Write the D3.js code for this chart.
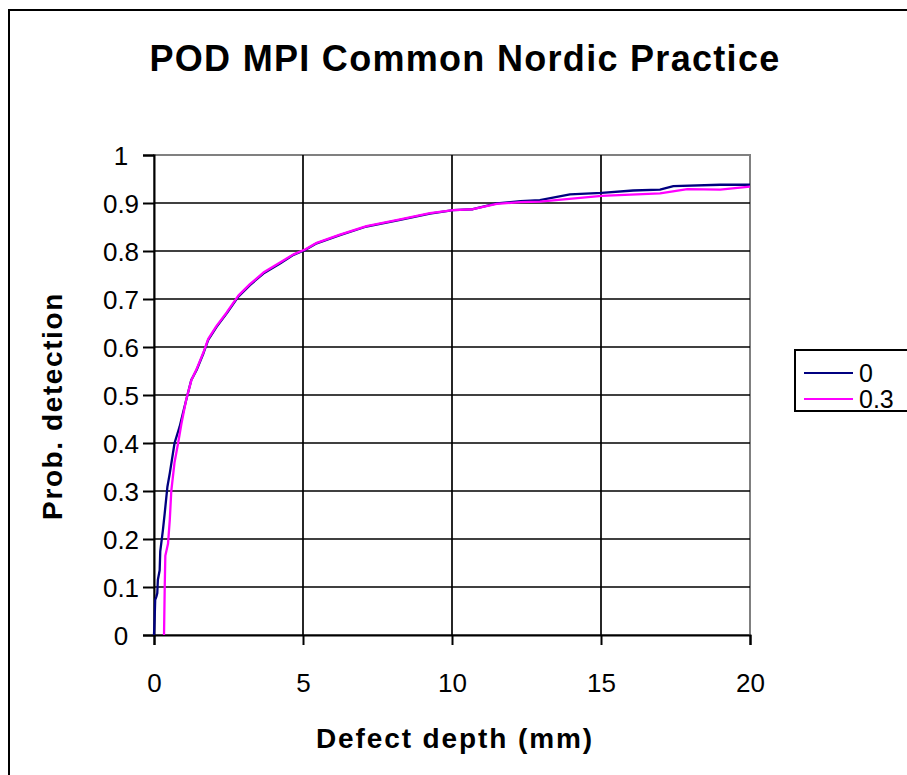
<!DOCTYPE html>
<html><head><meta charset="utf-8">
<script src="https://cdn.jsdelivr.net/npm/d3@7"></script>
<style>body{margin:0;background:#fff}svg{display:block}</style>
</head><body>
<script>
const titleText = "POD MPI Common Nordic Practice";
const xLabel = "Defect depth (mm)";
const yLabel = "Prob. detection";
const xTicks = [0, 5, 10, 15, 20];
const yTicks = [0, 0.1, 0.2, 0.3, 0.4, 0.5, 0.6, 0.7, 0.8, 0.9, 1];
const seriesNames = ["0", "0.3"];
const seriesColors = ["#000080", "#FF00FF"];

const s0x = [0, 0.02, 0.04, 0.08, 0.11, 0.13, 0.19, 0.21, 0.30, 0.36, 0.45, 0.53, 0.69, 0.86, 0.97, 1.14, 1.25, 1.43, 1.66, 1.82, 2.10, 2.44, 2.83, 3.22, 3.67, 4.23, 4.68, 5.07, 5.46, 6.24, 7.13, 8.26, 9.26, 10.04, 10.70, 11.50, 12.30, 12.95, 13.96, 15.02, 16.08, 16.98, 17.43, 19.00, 20.00];
const s0y = [0, 0.03, 0.073, 0.08, 0.087, 0.115, 0.135, 0.174, 0.219, 0.254, 0.309, 0.337, 0.400, 0.434, 0.462, 0.504, 0.531, 0.552, 0.587, 0.615, 0.642, 0.670, 0.705, 0.729, 0.753, 0.774, 0.792, 0.802, 0.816, 0.833, 0.851, 0.865, 0.878, 0.885, 0.887, 0.899, 0.904, 0.906, 0.918, 0.921, 0.926, 0.928, 0.935, 0.938, 0.938];

const s1x = [0.336, 0.36, 0.38, 0.47, 0.53, 0.58, 0.69, 0.81, 0.92, 1.08, 1.25, 1.43, 1.66, 1.82, 2.10, 2.44, 2.83, 3.22, 3.67, 4.23, 4.68, 5.07, 5.46, 6.24, 7.13, 8.26, 9.26, 10.04, 10.70, 11.50, 12.30, 12.95, 15.02, 16.98, 17.90, 19.00, 20.00];
const s1y = [0, 0.100, 0.165, 0.190, 0.240, 0.300, 0.360, 0.400, 0.440, 0.490, 0.530, 0.554, 0.589, 0.617, 0.644, 0.672, 0.707, 0.731, 0.755, 0.776, 0.793, 0.803, 0.817, 0.834, 0.852, 0.866, 0.879, 0.885, 0.887, 0.898, 0.902, 0.903, 0.915, 0.920, 0.929, 0.928, 0.934];

const W = 907, H = 775;
const svg = d3.select("body").append("svg").attr("width", W).attr("height", H);
const font = "'Liberation Sans', Arial, sans-serif";

// outer chart frame (extends beyond window at right/bottom)
svg.append("rect").attr("x", 9).attr("y", 10).attr("width", W + 20).attr("height", H + 20)
  .attr("fill", "#fff").attr("stroke", "#000").attr("stroke-width", 2);

const x = d3.scaleLinear().domain([0, 20]).range([154, 750]);
const y = d3.scaleLinear().domain([0, 1]).range([635, 155]);

const g = svg.append("g");

// plot area border (gray)
g.append("rect").attr("x", x(0)).attr("y", y(1)).attr("width", x(20) - x(0)).attr("height", y(0) - y(1))
  .attr("fill", "none").attr("stroke", "#808080").attr("stroke-width", 2);

// gridlines
g.selectAll(".hg").data(yTicks.filter(d => d > 0 && d < 1)).join("line")
  .attr("x1", x(0)).attr("x2", x(20)).attr("y1", d => y(d)).attr("y2", d => y(d))
  .attr("stroke", "#000").attr("stroke-width", 1.7);
g.selectAll(".vg").data(xTicks.filter(d => d > 0 && d < 20)).join("line")
  .attr("y1", y(0)).attr("y2", y(1)).attr("x1", d => x(d)).attr("x2", d => x(d))
  .attr("stroke", "#000").attr("stroke-width", 1.7);

// axes
const xAxis = g.append("g").attr("transform", `translate(0,${y(0)})`)
  .call(d3.axisBottom(x).tickValues(xTicks).tickSize(10).tickFormat(d3.format("d")));
const yAxis = g.append("g").attr("transform", `translate(${x(0)},0)`)
  .call(d3.axisLeft(y).tickValues(yTicks).tickSize(11).tickFormat(d => d === 0 ? "0" : d === 1 ? "1" : d3.format(".1f")(d)));
[xAxis, yAxis].forEach(a => {
  a.select(".domain").attr("stroke", "#000").attr("stroke-width", 2);
  a.selectAll(".tick line").attr("stroke", "#000").attr("stroke-width", 2);
  a.selectAll("text").attr("font-family", font).attr("font-size", 26).attr("fill", "#000");
});
xAxis.selectAll("text").attr("dy", null).attr("y", 57);
yAxis.selectAll("text").attr("text-anchor", "middle").attr("x", -33).attr("dy", "0.35em");

// series
const line = d3.line().x(d => x(d[0])).y(d => y(d[1]));
const data = [d3.zip(s0x, s0y), d3.zip(s1x, s1y)];
data.forEach((pts, i) => {
  g.append("path").datum(pts).attr("d", line).attr("fill", "none")
    .attr("stroke", seriesColors[i]).attr("stroke-width", 2.3).attr("stroke-linejoin", "round");
});

// title
svg.append("text").attr("x", 465).attr("y", 71).attr("text-anchor", "middle")
  .attr("font-family", font).attr("font-weight", "bold").attr("font-size", 36)
  .attr("letter-spacing", 1.3).text(titleText);

// axis titles
svg.append("text").attr("x", 455).attr("y", 748).attr("text-anchor", "middle")
  .attr("font-family", font).attr("font-weight", "bold").attr("font-size", 28)
  .attr("letter-spacing", 1.9).text(xLabel);
svg.append("text").attr("transform", "translate(62,406) rotate(-90)").attr("text-anchor", "middle")
  .attr("font-family", font).attr("font-weight", "bold").attr("font-size", 28)
  .attr("letter-spacing", 1.6).text(yLabel);

// legend
const lg = svg.append("g");
lg.append("rect").attr("x", 795).attr("y", 350).attr("width", 140).attr("height", 61)
  .attr("fill", "#fff").attr("stroke", "#000").attr("stroke-width", 2);
seriesNames.forEach((n, i) => {
  const yy = 373 + i * 26;
  lg.append("line").attr("x1", 804).attr("x2", 853).attr("y1", yy).attr("y2", yy)
    .attr("stroke", seriesColors[i]).attr("stroke-width", 2);
  lg.append("text").attr("x", 859).attr("y", yy).attr("dy", "0.35em")
    .attr("font-family", font).attr("font-size", 25).text(n);
});
</script>
</body></html>
